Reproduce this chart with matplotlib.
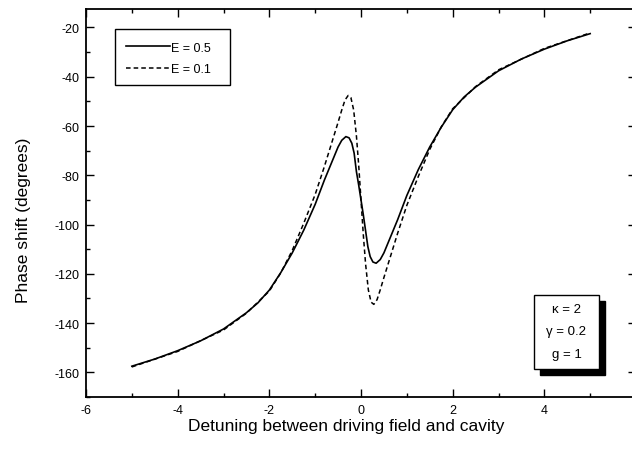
import matplotlib
matplotlib.use("Agg")
import matplotlib.pyplot as plt
from matplotlib.patches import Rectangle

plt.rcParams['font.family'] = ['Liberation Sans', 'DejaVu Sans']
plt.rcParams['axes.unicode_minus'] = False

# detuning values and phase shift (degrees)
x_e05 = [-5.0, -4.5, -4.0, -3.5, -3.0, -2.5, -2.25, -2.0, -1.75, -1.5, -1.25,
         -1.0, -0.8, -0.6, -0.5, -0.42, -0.33, -0.26, -0.2, -0.15, -0.1,
         -0.05, 0.0, 0.05, 0.1, 0.15, 0.2, 0.26, 0.33, 0.42, 0.5, 0.6, 0.8,
         1.0, 1.25, 1.5, 1.75, 2.0, 2.25, 2.5, 3.0, 3.5, 4.0, 4.5, 5.0]
phase_e05 = [-157.5, -154.6, -151.2, -147.2, -142.4, -135.8, -131.8, -126.6,
             -119.5, -111.5, -102.3, -91.8, -82.0, -73.0, -68.5, -65.8, -64.3,
             -64.8, -67.0, -71.0, -78.5, -84.0, -90.0, -96.0, -102.5, -109.0,
             -113.0, -115.2, -115.7, -114.2, -111.5, -107.0, -98.0, -88.2,
             -77.7, -68.5, -60.5, -53.4, -48.2, -44.2, -37.6, -32.8, -28.8,
             -25.4, -22.5]

x_e01 = [-5.0, -4.0, -3.0, -2.5, -2.0, -1.75, -1.5, -1.25, -1.0, -0.8, -0.65,
         -0.5, -0.42, -0.35, -0.28, -0.22, -0.16, -0.1, -0.05, 0.0, 0.05, 0.1,
         0.16, 0.22, 0.28, 0.35, 0.42, 0.5, 0.65, 0.8, 1.0, 1.25, 1.5, 1.75,
         2.0, 2.5, 3.0, 4.0, 5.0]
phase_e01 = [-157.8, -151.5, -142.8, -136.0, -127.0, -119.6, -110.5, -99.5,
             -87.8, -76.5, -67.5, -58.5, -53.5, -49.5, -47.6, -48.5, -53.5,
             -64.0, -76.0, -90.0, -104.0, -116.0, -126.5, -131.5, -132.4,
             -130.5, -126.5, -121.5, -112.5, -103.5, -92.2, -80.5, -69.5,
             -60.4, -53.0, -44.0, -37.2, -28.5, -22.2]

params = ["κ = 2", "γ = 0.2", "g = 1"]

W, H = 632, 460
fig = plt.figure(figsize=(W / 100, H / 100), dpi=100)


def fx(px):
    return px / W


def fy(py):
    return 1 - py / H


ax = fig.add_axes([fx(86), fy(398), (636 - 86) / W, (398 - 10) / H])

ax.plot(x_e05, phase_e05, color='black', lw=1.2, label='E = 0.5')
ax.plot(x_e01, phase_e01, color='black', lw=1.1, dashes=(3, 2),
        label='E = 0.1')

ax.set_xlim(-6, 6)
ax.set_ylim(-170, -12.5)
ax.set_xticks(range(-6, 7, 2))
ax.set_xticks(range(-5, 6, 2), minor=True)
ax.set_yticks(range(-160, -19, 20))
ax.set_yticks(range(-170, -12, 10), minor=True)
ax.tick_params(which='both', direction='in', top=True, right=True,
               labelsize=9, width=1.0, pad=5)
ax.tick_params(which='major', length=5.5)
ax.tick_params(which='minor', length=3)
for s in ax.spines.values():
    s.set_linewidth(1.3)

ax.set_xlabel('Detuning between driving field and cavity', fontsize=12.5)
ax.set_ylabel('Phase shift (degrees)', fontsize=12.5)
ax.xaxis.set_label_coords((346 - 86) / 550, -(427 - 398) / 388)
ax.xaxis.label.set_va('center')
ax.yaxis.set_label_coords(-(86 - 24) / 550, (398 - 220) / 388)
ax.yaxis.label.set_va('center')

# legend frame drawn separately (wider on the right, as in the original)
lx0, ly0, lx1, ly1 = 115, 30, 230, 86
ax.add_patch(Rectangle((fx(lx0), fy(ly1)), (lx1 - lx0) / W,
                       (ly1 - ly0) / H, transform=fig.transFigure,
                       facecolor='white', edgecolor='black', lw=1.0,
                       zorder=4, clip_on=False))
leg = ax.legend(loc='upper left', bbox_to_anchor=(fx(122), fy(39)),
                bbox_transform=fig.transFigure, fontsize=9,
                handlelength=3.5, handletextpad=0.1, borderpad=0.3,
                labelspacing=0.75, borderaxespad=0, frameon=False)
leg.set_zorder(5)

# parameter box with drop shadow
bx0, by0, bx1, by1 = 534, 296, 599, 370
fig.add_artist(Rectangle((fx(bx0 + 6), fy(by1 + 6)), (bx1 - bx0) / W,
                         (by1 - by0) / H, transform=fig.transFigure,
                         facecolor='black', edgecolor='black', zorder=5))
fig.add_artist(Rectangle((fx(bx0), fy(by1)), (bx1 - bx0) / W,
                         (by1 - by0) / H, transform=fig.transFigure,
                         facecolor='white', edgecolor='black', lw=1.0,
                         zorder=6))
for i, t in enumerate(params):
    fig.text(fx((bx0 + bx1) / 2), fy(310 + 22.5 * i), t, ha='center',
             va='center', fontsize=9.5, zorder=7)

fig.savefig('out.png', dpi=100)
